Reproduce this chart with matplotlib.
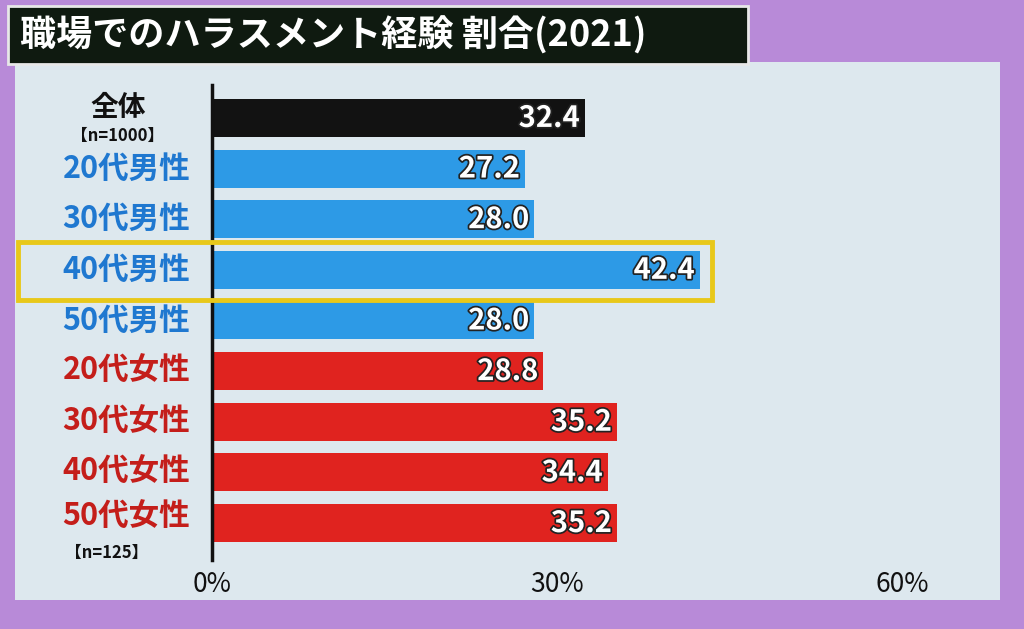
import matplotlib
matplotlib.use("Agg")
import matplotlib.pyplot as plt
import matplotlib.patheffects as pe
from matplotlib.patches import Rectangle

plt.rcParams['font.family'] = ['Noto Sans CJK JP', 'DejaVu Sans']

categories = ["全体", "20代男性", "30代男性", "40代男性", "50代男性",
              "20代女性", "30代女性", "40代女性", "50代女性"]
values = [32.4, 27.2, 28.0, 42.4, 28.0, 28.8, 35.2, 34.4, 35.2]
groups = ["all", "m", "m", "m", "m", "f", "f", "f", "f"]
xticks = [0, 30, 60]
xticklabels = ["0%", "30%", "60%"]
title = "職場でのハラスメント経験 割合(2021)"

bar_col = {"all": "#121212", "m": "#2d9ae6", "f": "#e0231f"}
lab_col = {"all": "#111111", "m": "#1f78d0", "f": "#c41e1a"}

W, H = 1024, 629
fig = plt.figure(figsize=(W/100, H/100), dpi=100)
fig.patch.set_facecolor("#b88ad8")
fig.add_artist(Rectangle((15/W, 1-600/H), 985/W, 538/H, transform=fig.transFigure,
                         facecolor="#dde8ee", edgecolor="none", zorder=0))
fig.add_artist(Rectangle((8/W, 1-64/H), 740/W, 58/H, transform=fig.transFigure,
                         facecolor="#0f1a10", edgecolor="#e8e8e8", lw=2, zorder=1))
fig.text(20/W, 1-35/H, title, color="white", fontsize=26, fontweight="bold",
         va="center", ha="left")

ax = fig.add_axes([212/W, 1-560/H, 778/W, 475/H])
ax.set_facecolor("none")
y = list(range(len(categories)))
ax.barh(y, values, height=0.75, color=[bar_col[g] for g in groups], zorder=2)
ax.set_xlim(0, 778/11.5)
ax.set_ylim(8.73, -0.65)
for s in ["top", "right", "bottom"]:
    ax.spines[s].set_visible(False)
ax.spines["left"].set_linewidth(2.5)
ax.spines["left"].set_color("#111")
ax.set_xticks(xticks)
ax.set_xticklabels(xticklabels, fontsize=19)
ax.tick_params(axis="x", length=0, pad=8, colors="#111")
ax.set_yticks([])

for i, v in enumerate(values):
    ax.text(v - 0.4, i, f"{v:.1f}", color="white", fontsize=21, fontweight="bold",
            ha="right", va="center", zorder=3,
            path_effects=[pe.withStroke(linewidth=2.5, foreground="#222")])
for i, (c, g) in enumerate(zip(categories, groups)):
    if i == 0:
        continue
    ax.text(-1.9, i - (0.12 if i == 8 else 0), c, color=lab_col[g],
            fontsize=22, fontweight="bold", ha="right", va="center")
ax.text(-8.2, -0.2, "全体", color="#111", fontsize=20, fontweight="bold", ha="center", va="center")
ax.text(-8.2, 0.35, "【n=1000】", color="#111", fontsize=12, fontweight="bold", ha="center", va="center")
ax.text(-9.2, 8.6, "【n=125】", color="#111", fontsize=12, fontweight="bold", ha="center", va="center")

fig.add_artist(Rectangle((18/W, 1-300/H), 694/W, 58/H, transform=fig.transFigure,
                         facecolor="none", edgecolor="#e8c81a", lw=3.5, zorder=5))

fig.savefig("out.png", dpi=100)
